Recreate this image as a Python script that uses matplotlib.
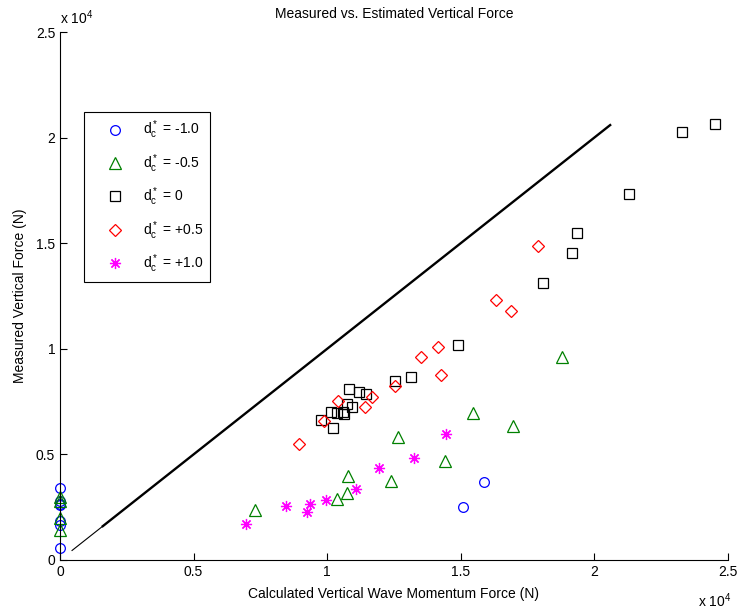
import numpy as np
import matplotlib as mpl
mpl.use('Agg')
from matplotlib import pyplot as plt
from matplotlib.ticker import FuncFormatter

plt.rcParams['font.family'] = ['Liberation Sans', 'DejaVu Sans']
plt.rcParams['mathtext.default'] = 'regular'
plt.rcParams['font.size'] = 10

# data (N)
neg10_x = [0, 0, 0, 0, 0, 0, 0, 15080, 15880]
neg10_y = [3430, 2800, 2650, 2600, 1830, 1660, 550, 2530, 3700]

neg05_x = [0, 0, 0, 0, 7310, 10370, 10750, 10790, 12390, 12640, 14410, 15460, 16980, 18790]
neg05_y = [3000, 2800, 2000, 1400, 2370, 2890, 3190, 4000, 3730, 5810, 4710, 6980, 6350, 9610]

zero_x = [24510, 23290, 21310, 19340, 19160, 18080, 14920, 13150, 12560, 10830, 11200, 11460,
          10920, 10730, 10580, 10140, 10380, 10620, 9790, 10210]
zero_y = [20650, 20270, 17330, 15480, 14520, 13140, 10190, 8660, 8500, 8080, 7960, 7870,
          7240, 7390, 7000, 7000, 6970, 6930, 6640, 6270]

pos05_x = [17900, 16340, 16890, 14160, 13520, 14280, 12560, 11680, 10420, 11430, 9890, 8940]
pos05_y = [14850, 12320, 11800, 10090, 9620, 8750, 8220, 7740, 7550, 7250, 6570, 5510]

pos10_x = [14460, 13260, 11930, 11090, 9950, 9370, 9230, 8480, 6970]
pos10_y = [5990, 4850, 4380, 3380, 2840, 2670, 2290, 2570, 1710]

# 1:1 reference line
ref_thin = [450, 1600]
ref_thick = [1600, 20600]

fig = plt.figure(figsize=(7.41, 6.13), dpi=100)
ax = fig.add_axes([0.081, 0.0865, 0.901, 0.861])

ax.plot(ref_thin, ref_thin, color='k', lw=0.8)
ax.plot(ref_thick, ref_thick, color='k', lw=1.7)

ms = 7
kw = dict(ls='none', mfc='none', mew=0.9, clip_on=False)
ax.plot(neg10_x, neg10_y, marker='o', mec='b', ms=ms, label=r'$d_c^*$ = -1.0', **kw)
ax.plot(neg05_x, neg05_y, marker='^', mec=(0, 0.5, 0), ms=ms + 1, label=r'$d_c^*$ = -0.5', **kw)
ax.plot(zero_x, zero_y, marker='s', mec='k', ms=ms + 0.5, label=r'$d_c^*$ = 0', **kw)
ax.plot(pos05_x, pos05_y, marker='D', mec='r', ms=ms - 1, label=r'$d_c^*$ = +0.5', **kw)
ax.plot(pos10_x, pos10_y, marker=(8, 2, 0), mec='#ff00ff', ms=ms + 1,
        label=r'$d_c^*$ = +1.0', **kw)

ax.set_xlim(0, 25000)
ax.set_ylim(0, 25000)
ax.set_xticks(np.arange(0, 25001, 5000))
ax.set_yticks(np.arange(0, 25001, 5000))
fmt = FuncFormatter(lambda v, p: '%g' % (v / 1e4))
ax.xaxis.set_major_formatter(fmt)
ax.yaxis.set_major_formatter(fmt)
ax.tick_params(direction='in', length=5, labelsize=10)
ax.spines['top'].set_visible(False)
ax.spines['right'].set_visible(False)

ax.text(0.0, 1.01, r'x 10$^{4}$', transform=ax.transAxes, ha='left', va='bottom', fontsize=10)
ax.text(0.955, -0.06, r'x 10$^{4}$', transform=ax.transAxes, ha='left', va='top', fontsize=10)

ax.set_title('Measured vs. Estimated Vertical Force', fontsize=10, pad=10)
ax.set_xlabel('Calculated Vertical Wave Momentum Force (N)', fontsize=10, labelpad=6)
ax.set_ylabel('Measured Vertical Force (N)', fontsize=10, labelpad=6)

leg = ax.legend(loc='upper left', bbox_to_anchor=(0.036, 0.849), borderaxespad=0,
                numpoints=1, handlelength=3.4, labelspacing=0.78, fancybox=False,
                edgecolor='k', framealpha=1, borderpad=0.5, handletextpad=0.35)
leg.get_frame().set_linewidth(0.8)

plt.savefig('out.png', dpi=100)
